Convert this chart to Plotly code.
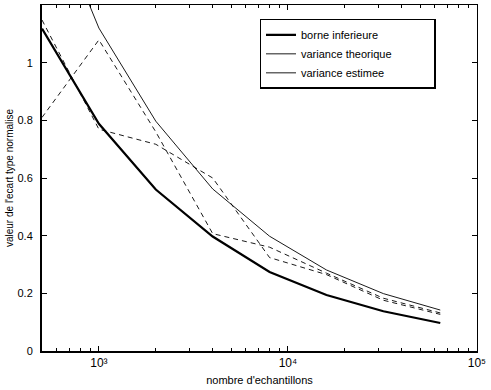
import math
import plotly.graph_objects as go

n_samples = [500, 1000, 2000, 4000, 8000, 16000, 32000, 64000]
borne_inferieure = [1.118, 0.788, 0.560, 0.397, 0.274, 0.194, 0.138, 0.097]
variance_theorique = [1.60, 1.120, 0.797, 0.562, 0.398, 0.281, 0.199, 0.142]
variance_estimee_1 = [0.810, 1.079, 0.760, 0.407, 0.360, 0.270, 0.183, 0.132]
variance_estimee_2 = [1.148, 0.769, 0.717, 0.600, 0.324, 0.265, 0.176, 0.127]

y_ticks = [0, 0.2, 0.4, 0.6, 0.8, 1]
y_ticklabels = ["0", "0.2", "0.4", "0.6", "0.8", "1"]
x_ticks = [1e3, 1e4, 1e5]
x_ticklabels = ["10³", "10⁴", "10⁵"]
x_minor = [600, 700, 800, 900, 2000, 3000, 4000, 5000, 6000, 7000, 8000, 9000,
           20000, 30000, 40000, 50000, 60000, 70000, 80000, 90000]
legend_pad = "\u00a0" * 12

FONT = "Liberation Sans, Arial, Helvetica, sans-serif"
dash = "5px,4px"
x_range = [math.log10(500), 5.0005]

fig = go.Figure()
fig.add_trace(go.Scatter(x=n_samples, y=borne_inferieure, mode="lines",
                         line=dict(color="black", width=2.2),
                         name="borne inferieure" + legend_pad))
fig.add_trace(go.Scatter(x=n_samples, y=variance_theorique, mode="lines",
                         line=dict(color="black", width=0.9),
                         name="variance theorique" + legend_pad))
fig.add_trace(go.Scatter(x=n_samples, y=variance_estimee_1, mode="lines",
                         line=dict(color="black", width=0.9, dash=dash),
                         name="variance estimee", showlegend=False))
fig.add_trace(go.Scatter(x=n_samples, y=variance_estimee_2, mode="lines",
                         line=dict(color="black", width=0.9, dash=dash),
                         name="variance estimee", showlegend=False))
# legend entry (MATLAB shows a solid sample for this entry)
fig.add_trace(go.Scatter(x=[None], y=[None], mode="lines",
                         line=dict(color="black", width=0.9),
                         name="variance estimee" + legend_pad))

fig.update_layout(
    width=491, height=390,
    margin=dict(l=42, r=7, t=5, b=37),
    paper_bgcolor="white", plot_bgcolor="white",
    font=dict(family=FONT, size=10, color="black"),
    showlegend=True,
    legend=dict(x=0.5, y=0.96, xanchor="left", yanchor="top",
                bgcolor="white", bordercolor="black", borderwidth=1.5,
                font=dict(size=11, family=FONT), itemwidth=30,
                tracegroupgap=0),
    xaxis=dict(type="log", range=x_range,
               tickvals=x_ticks, ticktext=x_ticklabels, ticklabeloverflow="allow",
               ticks="inside", ticklen=5, tickwidth=1, tickcolor="black",
               minor=dict(tickvals=x_minor, ticks="inside", ticklen=3, tickcolor="black"),
               showline=True, linewidth=2, linecolor="black", mirror=False,
               showgrid=False, zeroline=False,
               tickfont=dict(size=12),
               title=dict(text="nombre d'echantillons", standoff=7, font=dict(size=11))),
    yaxis=dict(range=[0, 1.2], tickvals=y_ticks, ticktext=y_ticklabels,
               ticks="inside", ticklen=5, tickwidth=1, tickcolor="black",
               showline=True, linewidth=2, linecolor="black", mirror=False,
               showgrid=False, zeroline=False,
               tickfont=dict(size=11), ticklabelstandoff=5,
               title=dict(text="valeur de l'ecart type normalise", standoff=2, font=dict(size=10))),
    xaxis2=dict(type="log", range=x_range, overlaying="x", side="top",
                anchor="y", tickvals=x_ticks, showticklabels=False,
                ticks="inside", ticklen=5, tickcolor="black",
                minor=dict(tickvals=x_minor, ticks="inside", ticklen=3, tickcolor="black"),
                showline=True, linewidth=1, linecolor="black",
                showgrid=False, zeroline=False),
    yaxis2=dict(range=[0, 1.2], overlaying="y", side="right", anchor="x",
                tickvals=y_ticks, showticklabels=False,
                ticks="inside", ticklen=5, tickcolor="black",
                showline=True, linewidth=1.3, linecolor="black",
                showgrid=False, zeroline=False),
)
# invisible trace to activate the mirrored axes
fig.add_trace(go.Scatter(x=[None], y=[None], xaxis="x2", yaxis="y2",
                         showlegend=False, hoverinfo="skip"))

fig.write_html("out.html", config={"displayModeBar": False},
               post_script="document.body.style.margin='0';document.body.style.overflow='hidden';")
